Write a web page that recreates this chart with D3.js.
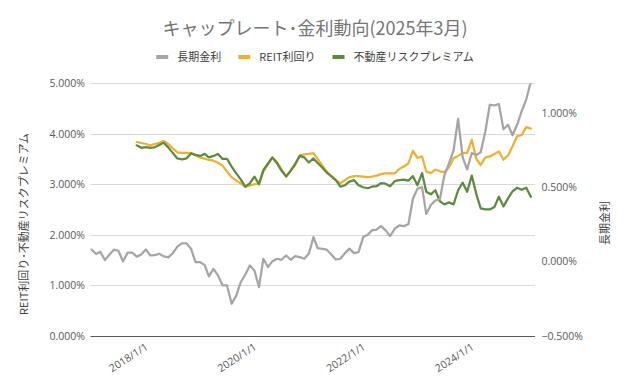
<!DOCTYPE html>
<html><head><meta charset="utf-8">
<script src="https://cdn.jsdelivr.net/npm/d3@7"></script>
<style>
html,body{margin:0;padding:0;background:#fff;}
svg{display:block;}
text{font-family:"Open Sans","Noto Sans CJK JP",sans-serif;}
.jp{font-family:"Noto Sans CJK JP","Noto Sans",sans-serif;}
</style></head>
<body><svg id="c" width="631" height="390"></svg>
<script>
// ---- data (monthly, 2017/1 - 2025/2) ----
const startMonth = new Date(2017, 0, 1);
const endMonth = new Date(2025, 1, 1);
const axisEnd = new Date(2025, 2, 1);
const months = d3.timeMonth.range(startMonth, d3.timeMonth.offset(endMonth, 1));

const jgb = [0.08,0.05,0.065,0.01,0.045,0.08,0.072,0.0,0.06,0.06,
 0.032,0.047,0.08,0.04,0.042,0.052,0.034,0.027,0.054,0.10,
 0.122,0.122,0.086,-0.005,-0.005,-0.025,-0.10,-0.05,-0.094,-0.162,
 -0.162,-0.285,-0.23,-0.14,-0.088,-0.027,-0.061,-0.173,0.018,-0.038,
 0.002,0.018,0.011,0.04,0.011,0.036,0.029,0.018,0.052,0.164,
 0.09,0.085,0.079,0.047,0.013,0.018,0.056,0.086,0.056,0.063,
 0.164,0.18,0.209,0.214,0.238,0.209,0.171,0.22,0.243,0.238,
 0.25,0.42,0.49,0.50,0.32,0.38,0.41,0.42,0.58,0.66,
 0.75,0.96,0.70,0.62,0.73,0.717,0.735,0.875,1.055,1.05,
 1.06,0.89,0.92,0.85,0.92,1.01,1.09,1.21];

const reit = [null,null,null,null,null,null,null,null,null,null,
 3.836,3.816,3.796,3.77,3.796,3.82,3.856,3.796,3.71,3.63,
 3.62,3.62,3.617,3.57,3.53,3.505,3.48,3.466,3.426,3.367,
 3.25,3.136,3.07,3.018,2.95,2.978,2.998,3.018,3.25,3.39,
 3.53,3.44,3.295,3.16,3.26,3.39,3.57,3.59,3.6,3.617,
 3.5,3.37,3.25,3.15,3.08,3.02,3.08,3.14,3.16,3.16,
 3.15,3.14,3.15,3.17,3.2,3.215,3.215,3.215,3.3,3.35,
 3.41,3.66,3.52,3.55,3.25,3.22,3.29,3.255,3.24,3.33,
 3.52,3.56,3.62,3.62,3.88,3.5,3.38,3.53,3.55,3.6,
 3.65,3.485,3.57,3.75,3.95,3.97,4.13,4.1];

const premium = [null,null,null,null,null,null,null,null,null,null,
 3.77,3.72,3.736,3.72,3.73,3.776,3.82,3.73,3.62,3.51,
 3.49,3.51,3.61,3.58,3.56,3.6,3.53,3.56,3.6,3.5,
 3.5,3.35,3.215,3.097,2.95,3.018,3.15,3.0,3.28,3.41,
 3.53,3.41,3.27,3.15,3.27,3.4,3.56,3.53,3.43,3.51,
 3.42,3.33,3.23,3.16,3.08,2.95,2.98,3.05,3.08,2.98,
 2.94,2.92,2.95,2.96,3.02,3.01,2.96,3.06,3.08,3.09,
 3.07,3.16,2.98,3.22,2.85,2.8,2.88,2.66,2.6,2.64,
 2.6,2.88,3.03,2.85,3.17,2.8,2.52,2.5,2.5,2.55,
 2.75,2.56,2.72,2.86,2.93,2.89,2.93,2.75];

const leftTicks = [0,1,2,3,4,5];
const rightTicks = [-0.5,0,0.5,1.0];
const xTickDates = [new Date(2018,0,1), new Date(2020,0,1), new Date(2022,0,1), new Date(2024,0,1)];
const xTickLabels = ["2018/1/1","2020/1/1","2022/1/1","2024/1/1"];

const title = "キャップレート･金利動向(2025年3月)";
const seriesNames = ["長期金利","REIT利回り","不動産リスクプレミアム"];
const seriesColors = ["#A5A5A5","#EBB035","#5D8A3E"];
const leftTitle = "REIT利回り･不動産リスクプレミアム";
const rightTitle = "長期金利";

// ---- layout ----
const svg = d3.select("#c");
const L = 91.5, R = 535, T = 83.2, B = 335.7;
const x = d3.scaleTime().domain([startMonth, axisEnd]).range([L, R]);
const yL = d3.scaleLinear().domain([0, 5]).range([B, T]);
const yR = d3.scaleLinear().domain([-0.5, 1.2]).range([B, T]);

svg.append("defs").append("clipPath").attr("id","pa")
  .append("rect").attr("x",L-2).attr("y",T).attr("width",R-L+4).attr("height",B-T);

// title
svg.append("text").attr("class","jp").attr("x",315).attr("y",35)
  .attr("text-anchor","middle").attr("font-size",18).attr("fill","#757575").text(title);

// legend
const lg = svg.append("g");
let cx = 0;
seriesNames.forEach((n,i)=>{
  const g = lg.append("g");
  g.append("rect").attr("x",0).attr("y",-2).attr("width",12).attr("height",4).attr("fill",seriesColors[i]);
  const t = g.append("text").attr("class","jp").attr("x",21).attr("y",4).attr("font-size",11).attr("fill","#404040").text(n);
  const w = 21 + t.node().getComputedTextLength();
  g.attr("transform",`translate(${cx},0)`);
  cx += w + 17;
});
const lw = cx - 17;
lg.attr("transform",`translate(${315 - lw/2},57)`);

// gridlines (left axis)
svg.append("g").selectAll("line").data(leftTicks.filter(d=>d>0)).join("line")
  .attr("x1",L-1).attr("x2",R).attr("y1",d=>Math.round(yL(d))+0.5).attr("y2",d=>Math.round(yL(d))+0.5)
  .attr("stroke","#D9D9D9").attr("stroke-width",1);

// bottom axis line
svg.append("line").attr("x1",L-1).attr("x2",R).attr("y1",Math.round(B)+0.5).attr("y2",Math.round(B)+0.5)
  .attr("stroke","#595959").attr("stroke-width",1);

const fmt = d3.format(".3%");
// left axis labels
svg.append("g").selectAll("text").data(leftTicks).join("text")
  .attr("x",85).attr("y",d=>yL(d)+4).attr("text-anchor","end")
  .attr("font-size",10.5).attr("fill","#595959").text(d=>fmt(d/100));
// right axis labels
svg.append("g").selectAll("text").data(rightTicks).join("text")
  .attr("x",541.5).attr("y",d=>yR(d)+4).attr("text-anchor","start")
  .attr("font-size",10.5).attr("fill","#595959").text(d=>fmt(d/100));

// x labels
svg.append("g").selectAll("text").data(xTickDates).join("text")
  .attr("transform",d=>`translate(${x(d)+3},${B+13}) rotate(-33)`)
  .attr("text-anchor","end").attr("font-size",10.5).attr("fill","#595959")
  .text((d,i)=>xTickLabels[i]);

// axis titles
svg.append("text").attr("class","jp").attr("transform",`translate(28,224) rotate(-90)`)
  .attr("text-anchor","middle").attr("font-size",11).attr("fill","#404040").text(leftTitle);
svg.append("text").attr("class","jp").attr("transform",`translate(609,223) rotate(-90)`)
  .attr("text-anchor","middle").attr("font-size",11).attr("fill","#404040").text(rightTitle);

// lines
const plot = svg.append("g").attr("clip-path","url(#pa)");
const mk = (arr, ys) => d3.line().defined((d,i)=>arr[i]!=null).x((d,i)=>x(months[i])).y((d,i)=>ys(arr[i]));
plot.append("path").attr("d", mk(reit,yL)(months)).attr("fill","none")
  .attr("stroke",seriesColors[1]).attr("stroke-width",2.25).attr("stroke-linejoin","round").attr("stroke-linecap","round");
plot.append("path").attr("d", mk(premium,yL)(months)).attr("fill","none")
  .attr("stroke",seriesColors[2]).attr("stroke-width",2.25).attr("stroke-linejoin","round").attr("stroke-linecap","round");
plot.append("path").attr("d", mk(jgb,yR)(months)).attr("fill","none")
  .attr("stroke",seriesColors[0]).attr("stroke-width",2.25).attr("stroke-linejoin","round").attr("stroke-linecap","round");
</script></body></html>
